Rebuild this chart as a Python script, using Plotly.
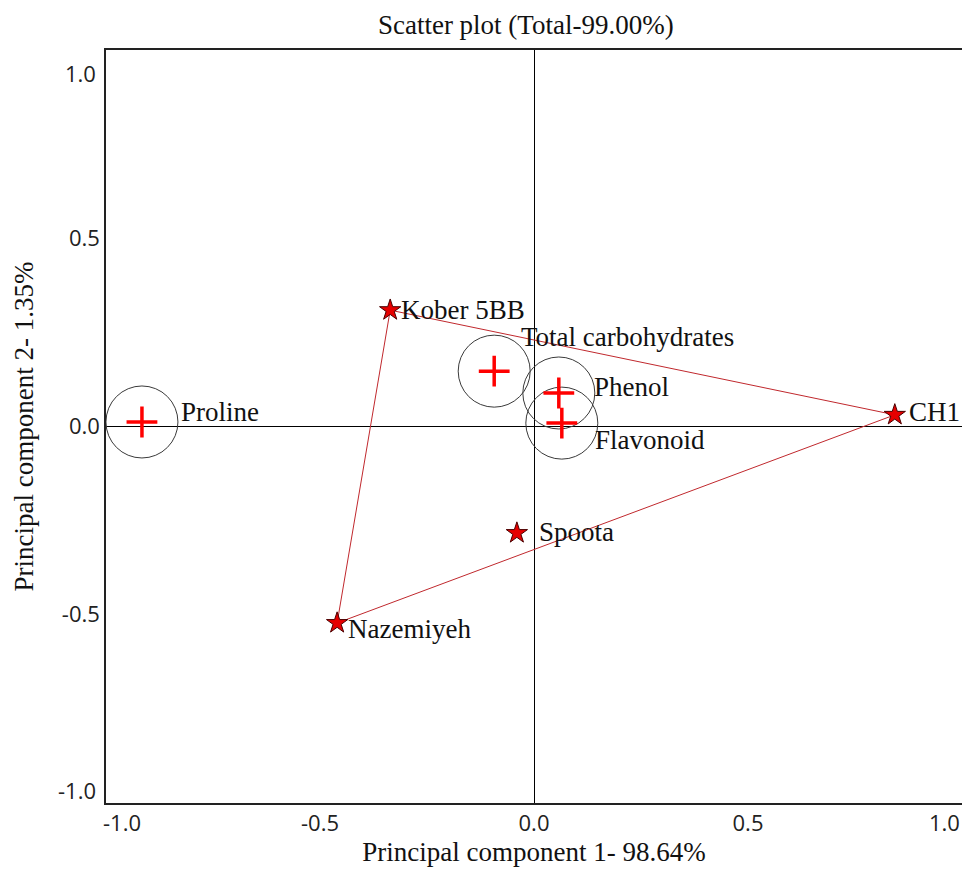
import plotly.graph_objects as go

# ---- data ----
genotypes = ["Kober 5BB", "CH1", "Nazemiyeh", "Spoota"]
geno_pc1 = [-0.336, 0.843, -0.460, -0.040]
geno_pc2 = [0.309, 0.031, -0.522, -0.283]

variables = ["Proline", "Total carbohydrates", "Phenol", "Flavonoid"]
var_pc1 = [-0.916, -0.093, 0.058, 0.065]
var_pc2 = [0.012, 0.147, 0.089, 0.009]

hull_order = ["Kober 5BB", "CH1", "Nazemiyeh", "Kober 5BB"]

axis_min, axis_max = -1.0, 1.0
inner_tick_vals = [-0.5, 0.0, 0.5]
inner_tick_text = ["-0.5", "0.0", "0.5"]
end_tick_text = {"min": "-1.0", "max": "1.0"}

# ---- styles ----
serif = "Liberation Serif, Times New Roman, serif"
sans = "Open Sans, sans-serif"
tick_font = dict(family=sans, size=22, color="#222")
label_font = dict(family=serif, size=27, color="#111")

fig = go.Figure()

# convex hull of genotypes
hx = [geno_pc1[genotypes.index(n)] for n in hull_order]
hy = [geno_pc2[genotypes.index(n)] for n in hull_order]
fig.add_trace(go.Scatter(x=hx, y=hy, mode="lines",
                         line=dict(color="#c0282d", width=1), hoverinfo="skip",
                         showlegend=False))

# circles around variables
fig.add_trace(go.Scatter(x=var_pc1, y=var_pc2, mode="markers",
                         marker=dict(symbol="circle-open", size=72, color="#3a3a3a",
                                     line=dict(color="#3a3a3a", width=1)),
                         hoverinfo="skip", showlegend=False))
# red crosses
fig.add_trace(go.Scatter(x=var_pc1, y=var_pc2, mode="markers",
                         marker=dict(symbol="cross-thin", size=22, color="#ff0000",
                                     line=dict(color="#ff0000", width=3.5)),
                         showlegend=False))
# genotype stars
fig.add_trace(go.Scatter(x=geno_pc1, y=geno_pc2, mode="markers",
                         marker=dict(symbol="star", size=16, color="#e60000",
                                     line=dict(color="#4a0000", width=1)),
                         showlegend=False))

# point labels
geno_shift = {"Kober 5BB": (9, 0), "CH1": (12, 3), "Nazemiyeh": (9, -6), "Spoota": (20, 1)}
var_shift = {"Proline": (37, 10), "Total carbohydrates": (25, 34),
             "Phenol": (33, 6), "Flavonoid": (31, -17)}
for n, x, y in zip(genotypes, geno_pc1, geno_pc2):
    dx, dy = geno_shift[n]
    fig.add_annotation(x=x, y=y, text=n, showarrow=False, xanchor="left", yanchor="middle",
                       xshift=dx, yshift=dy, font=label_font)
for n, x, y in zip(variables, var_pc1, var_pc2):
    dx, dy = var_shift[n]
    fig.add_annotation(x=x, y=y, text=n, showarrow=False, xanchor="left", yanchor="middle",
                       xshift=dx, yshift=dy, font=label_font)

# end tick labels, kept inside the frame as in the reference
fig.add_annotation(x=axis_min, y=0, xref="x", yref="paper", text=end_tick_text["min"],
                   showarrow=False, xanchor="left", yanchor="middle", xshift=-5, yshift=-19,
                   font=tick_font)
fig.add_annotation(x=axis_max, y=0, xref="x", yref="paper", text=end_tick_text["max"],
                   showarrow=False, xanchor="right", yanchor="middle", xshift=0, yshift=-19,
                   font=tick_font)
fig.add_annotation(x=0, y=axis_max, xref="paper", yref="y", text=end_tick_text["max"],
                   showarrow=False, xanchor="right", yanchor="middle", xshift=-8, yshift=-23,
                   font=tick_font)
fig.add_annotation(x=0, y=axis_min, xref="paper", yref="y", text=end_tick_text["min"],
                   showarrow=False, xanchor="right", yanchor="middle", xshift=-8, yshift=13,
                   font=tick_font)

fig.update_layout(
    width=963, height=870,
    margin=dict(l=106, r=1, t=50, b=67),
    paper_bgcolor="white", plot_bgcolor="white",
    hovermode=False,
    title=dict(text="Scatter plot (Total-99.00%)", x=0.546, xref="container", xanchor="center",
               y=0.972, yref="container", yanchor="middle",
               font=dict(family=serif, size=27, color="#111")),
    xaxis=dict(range=[axis_min, axis_max], tickvals=inner_tick_vals, ticktext=inner_tick_text,
               automargin=False,
               showgrid=False, zeroline=True, zerolinecolor="black", zerolinewidth=1,
               showline=True, linecolor="#222", linewidth=1.5, mirror=True,
               ticks="", tickfont=tick_font,
               title=dict(text="Principal component 1- 98.64%", standoff=4,
                          font=dict(family=serif, size=27, color="#111"))),
    yaxis=dict(range=[axis_min, axis_max], tickvals=inner_tick_vals, ticktext=inner_tick_text,
               automargin=False,
               showgrid=False, zeroline=True, zerolinecolor="black", zerolinewidth=1,
               showline=True, linecolor="#222", linewidth=1.5, mirror=False,
               ticks="", tickfont=tick_font,
               title=dict(text="Principal component 2- 1.35%", standoff=20,
                          font=dict(family=serif, size=27, color="#111"))),
)

# remove the default page margin so the 963x870 figure fills the window exactly
fig.write_html("out.html", config={"displayModeBar": False},
               post_script="document.body.style.margin='0';document.body.style.overflow='hidden';")
